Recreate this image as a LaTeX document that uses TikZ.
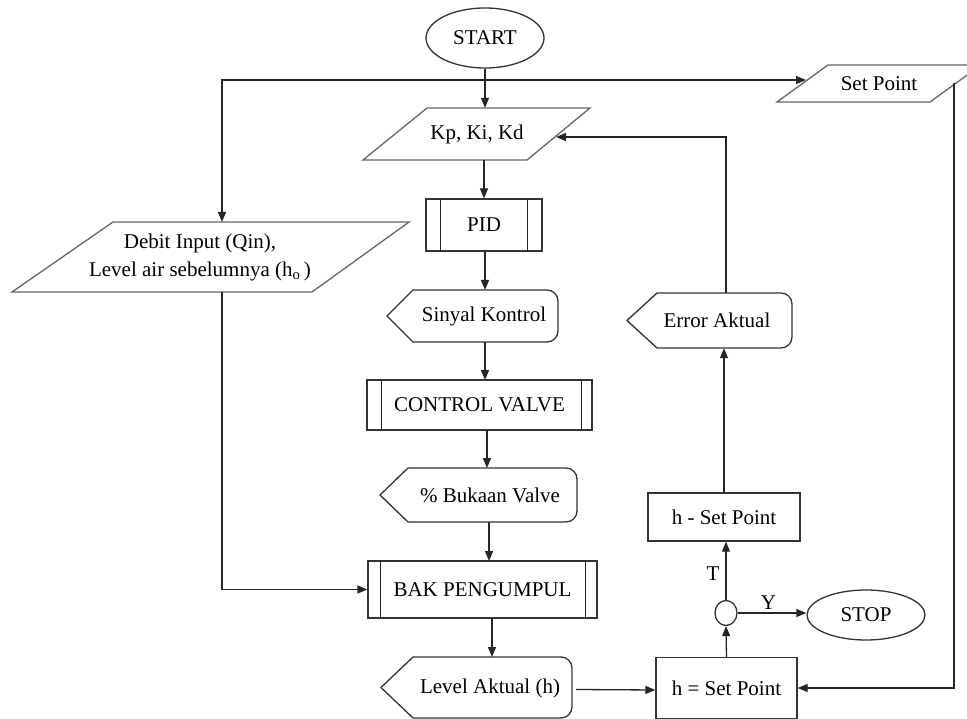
\documentclass[tikz,border=0pt]{standalone}
\usepackage{fontspec}
\setmainfont{Liberation Serif}
\usetikzlibrary{shapes.geometric,arrows.meta}
\newcommand{\dispshape}[6]{% left point x, corner x, right x, top y, bottom y, radius
  \draw[outl] (#1,{(#4+#5)/2}) -- (#2,#4) -- ({#3-#6},#4)
    .. controls ({#3-0.45*#6},#4) and (#3,{#4+0.45*#6}) .. (#3,{#4+#6})
    -- (#3,{#5-#6})
    .. controls (#3,{#5-0.45*#6}) and ({#3-0.45*#6},#5) .. ({#3-#6},#5)
    -- (#2,#5) -- cycle;}
\begin{document}
\begin{tikzpicture}[x=1pt,y=-1pt,
  every node/.style={font=\fontsize{21}{28}\selectfont, inner sep=0pt},
  arr/.style={line width=1.3pt, draw=black!85, -{Triangle[length=10pt,width=8pt]}},
  conn/.style={line width=1.3pt, draw=black!85},
  outl/.style={line width=1.3pt, draw=black!80, fill=white},
  para/.style={line width=1.3pt, draw=black!60, fill=white},
]
\useasboundingbox (0,0) rectangle (967,719);
\fill[white] (0,0) rectangle (967,719);

% ---------- shapes ----------
% START
\node[ellipse, outl, minimum width=118pt, minimum height=60pt] (start) at (485,38) {START};
% Set Point (parallelogram)
\draw[para] (777,102) -- (828,65) -- (981,65) -- (930,102) -- cycle;
\node[minimum width=150pt, minimum height=37pt] (sp) at (879,83.5) {Set Point};
% Kp, Ki, Kd
\draw[para] (363,160) -- (427,108) -- (590,108) -- (527,160) -- cycle;
\node[minimum width=160pt, minimum height=52pt] (kp) at (477,134) {Kp, Ki, Kd};
% Debit input
\draw[para] (12,292) -- (113,222) -- (409,222) -- (312,292) -- cycle;
\node[align=center, minimum height=70pt] (debit) at (200,257) {Debit Input (Qin),\\Level air sebelumnya (h\textsubscript{o}\,)};
% PID
\node[outl, minimum width=116pt, minimum height=52pt] (pid) at (484,225) {PID};
\draw[conn] ([xshift=15pt]pid.north west) -- ([xshift=15pt]pid.south west);
\draw[conn] ([xshift=-15pt]pid.north east) -- ([xshift=-15pt]pid.south east);
% Sinyal Kontrol (display)
\dispshape{387}{413}{558}{290}{342}{11}
\node[minimum width=171pt, minimum height=52pt] (sinyal) at (485,316) {};
\node at (484,316) {Sinyal Kontrol};
% CONTROL VALVE
\node[outl, minimum width=225pt, minimum height=50pt] (cv) at (479.5,405) {CONTROL VALVE};
\draw[conn] ([xshift=15pt]cv.north west) -- ([xshift=15pt]cv.south west);
\draw[conn] ([xshift=-11pt]cv.north east) -- ([xshift=-11pt]cv.south east);
% % Bukaan Valve
\dispshape{380}{408}{577}{468}{522}{11}
\node[minimum width=197pt, minimum height=54pt] (bukaan) at (487,495) {};
\node at (490,495) {\% Bukaan Valve};
% BAK PENGUMPUL
\node[outl, minimum width=229pt, minimum height=57pt] (bak) at (482.5,589.5) {BAK PENGUMPUL};
\draw[conn] ([xshift=13pt]bak.north west) -- ([xshift=13pt]bak.south west);
\draw[conn] ([xshift=-12pt]bak.north east) -- ([xshift=-12pt]bak.south east);
% Level Aktual (h)
\dispshape{381}{413}{572}{657}{718}{11}
\node[minimum width=191pt, minimum height=61pt] (level) at (476.5,687.5) {};
\node at (490,688) {Level Aktual (h)};
% h = Set Point
\node[outl, minimum width=141pt, minimum height=61pt] (hset) at (726.5,688) {h = Set Point};
% decision
\node[ellipse, outl, minimum width=22pt, minimum height=25pt] (dec) at (726,613) {};
% STOP
\node[ellipse, outl, minimum width=118pt, minimum height=50pt] (stop) at (866,615) {STOP};
% h - Set Point
\node[outl, minimum width=152pt, minimum height=48pt] (hmin) at (724,517) {h - Set Point};
% Error Aktual
\dispshape{627}{657}{792}{293}{348}{11}
\node[minimum width=165pt, minimum height=55pt] (error) at (709.5,320.5) {};
\node at (717,320) {Error Aktual};

% ---------- coordinates ----------
\coordinate (split) at (485,80);
\coordinate (spin) at (806,80);
\coordinate (debitin) at (222,222);
\coordinate (debitout) at (222,292);
\coordinate (kpin) at (556,137);
\coordinate (spout) at (954,83);

% ---------- connectors ----------
\draw[arr] (start.south) -- (start.south |- kp.north);
\draw[arr] (split) -| (debitin);
\draw[arr] (split) -- (spin);
\draw[arr] (pid.north |- kp.south) -- (pid.north);
\draw[arr] (485,251) -- (485,290);
\draw[arr] (485,342) -- (485,380);
\draw[arr] (487,430) -- (487,468);
\draw[arr] (489,522) -- (489,561);
\draw[arr] (492,618) -- (492,657);
\draw[arr] (debitout) |- (bak.west);
\draw[arr] (level.east) ++(4,2) -- (hset.west |- 0,690);
\draw[arr] (hset.north) -- (dec.south);
\draw[arr] (dec.north) -- (dec.north |- hmin.south) node[pos=0.45, left=6pt] {T};
\draw[arr] (dec.east) -- (stop.west |- dec.east) node[pos=0.45, above=3pt] {Y};
\draw[arr] (hmin.north) -- (hmin.north |- error.south);
\draw[arr] (726,293) |- (kpin);
\draw[arr] (spout) |- (hset.east);
\end{tikzpicture}
\end{document}
